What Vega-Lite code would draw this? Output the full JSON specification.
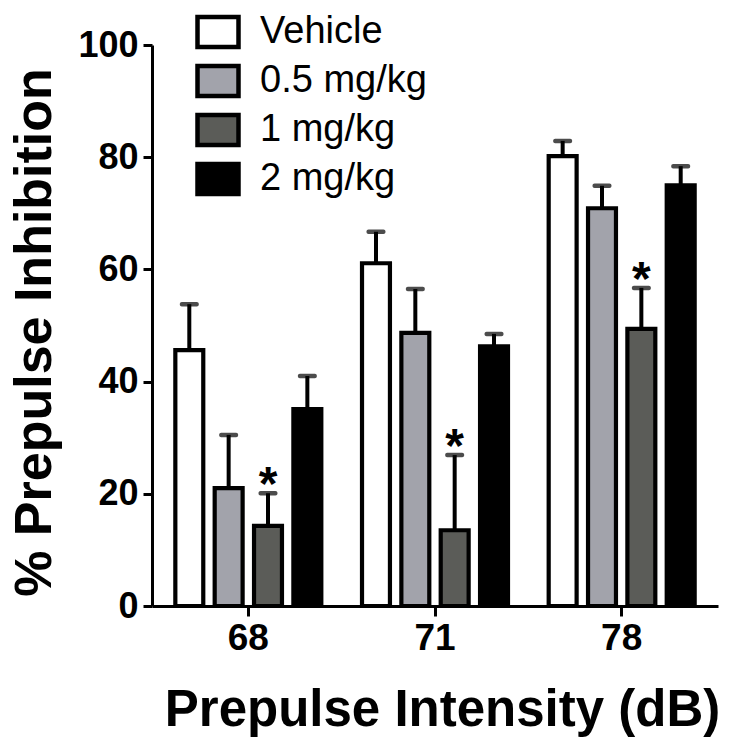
{
  "$schema": "https://vega.github.io/schema/vega-lite/v6.json",
  "autosize": "none",
  "width": 566,
  "height": 561,
  "padding": {"left": 152, "top": 45, "right": 13, "bottom": 142},
  "background": "white",
  "config": {
    "view": {"stroke": null},
    "font": "Liberation Sans",
    "axis": {"grid": false, "domainColor": "black", "tickColor": "black", "domainWidth": 3, "tickWidth": 3, "tickSize": 9, "labelColor": "black", "titleColor": "black", "labelFont": "Liberation Sans", "titleFont": "Liberation Sans", "labelFontWeight": "bold", "titleFontWeight": "bold"}
  },
  "data": {
    "values": [
      {"intensity": "68", "dose": "Vehicle", "mean": 45.6, "hi": 53.8, "sig": ""},
      {"intensity": "68", "dose": "0.5 mg/kg", "mean": 21.0, "hi": 30.5, "sig": ""},
      {"intensity": "68", "dose": "1 mg/kg", "mean": 14.3, "hi": 20.1, "sig": "*"},
      {"intensity": "68", "dose": "2 mg/kg", "mean": 35.1, "hi": 41.0, "sig": ""},
      {"intensity": "71", "dose": "Vehicle", "mean": 61.1, "hi": 66.7, "sig": ""},
      {"intensity": "71", "dose": "0.5 mg/kg", "mean": 48.7, "hi": 56.5, "sig": ""},
      {"intensity": "71", "dose": "1 mg/kg", "mean": 13.5, "hi": 26.9, "sig": "*"},
      {"intensity": "71", "dose": "2 mg/kg", "mean": 46.3, "hi": 48.5, "sig": ""},
      {"intensity": "78", "dose": "Vehicle", "mean": 80.2, "hi": 82.9, "sig": ""},
      {"intensity": "78", "dose": "0.5 mg/kg", "mean": 70.9, "hi": 74.9, "sig": ""},
      {"intensity": "78", "dose": "1 mg/kg", "mean": 49.4, "hi": 56.7, "sig": "*"},
      {"intensity": "78", "dose": "2 mg/kg", "mean": 75.0, "hi": 78.4, "sig": ""}
    ]
  },
  "encoding": {
    "x": {
      "field": "intensity", "type": "nominal", "sort": ["68", "71", "78"],
      "scale": {"paddingInner": 0.218, "paddingOuter": 0.125},
      "axis": {"title": "Prepulse Intensity (dB)", "labelAngle": 0, "labelFontSize": 37, "labelPadding": 4, "tickSize": 10, "titleFontSize": 51, "titleX": 290, "titleY": 119, "titleBaseline": "alphabetic", "titleAnchor": "middle"}
    },
    "xOffset": {
      "field": "dose", "type": "nominal", "sort": ["Vehicle", "0.5 mg/kg", "1 mg/kg", "2 mg/kg"],
      "scale": {"paddingInner": 0.29, "paddingOuter": 0}
    }
  },
  "layer": [
    {
      "mark": {"type": "rule", "strokeWidth": 4, "color": "black"},
      "encoding": {
        "y": {"field": "mean", "type": "quantitative"},
        "y2": {"field": "hi"}
      }
    },
    {
      "mark": {"type": "tick", "thickness": 4.5, "size": 19, "color": "black", "orient": "horizontal", "cornerRadius": 2},
      "encoding": {
        "y": {"field": "hi", "type": "quantitative"}
      }
    },
    {
      "mark": {"type": "bar", "stroke": "black", "strokeWidth": 4.2, "opacity": 1},
      "encoding": {
        "y": {
          "field": "mean", "type": "quantitative",
          "scale": {"domain": [0, 100], "nice": false},
          "axis": {"values": [0, 20, 40, 60, 80, 100], "title": "% Prepulse Inhibition", "labelFontSize": 36, "labelPadding": 5, "titleFontSize": 52, "titleX": -102, "titleY": 287, "titleAngle": -90, "titleBaseline": "alphabetic", "titleAnchor": "middle"}
        },
        "color": {
          "field": "dose", "type": "nominal",
          "sort": ["Vehicle", "0.5 mg/kg", "1 mg/kg", "2 mg/kg"],
          "scale": {"domain": ["Vehicle", "0.5 mg/kg", "1 mg/kg", "2 mg/kg"], "range": ["#ffffff", "#a2a3ab", "#5b5c58", "#000000"]},
          "legend": {
            "title": null, "orient": "none", "legendX": 43, "legendY": -36,
            "padding": 0,
            "symbolType": "M-1,-0.73H1V0.73H-1Z", "symbolSize": 1681, "symbolStrokeColor": "black", "symbolStrokeWidth": 4.5, "symbolFillColor": null,
            "labelFontSize": 38, "labelFont": "Liberation Sans", "labelColor": "black", "labelOffset": 19, "rowPadding": 1, "labelLimit": 400
          }
        }
      }
    },
    {
      "transform": [{"filter": "datum.sig != ''"}],
      "mark": {"type": "text", "fontSize": 48, "fontWeight": "bold", "color": "black", "baseline": "middle", "dy": -7},
      "encoding": {
        "y": {"field": "hi", "type": "quantitative"},
        "text": {"field": "sig"}
      }
    }
  ]
}
